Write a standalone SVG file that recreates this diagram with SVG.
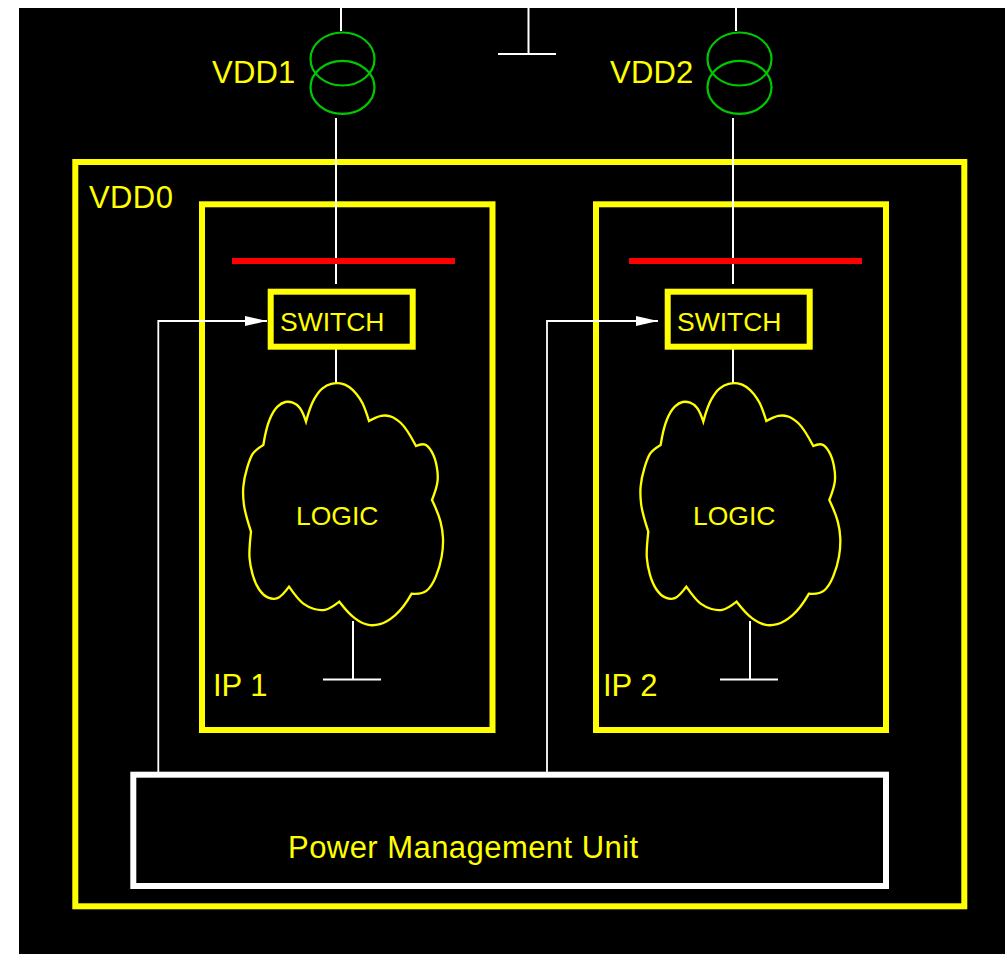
<svg xmlns="http://www.w3.org/2000/svg" xmlns:xlink="http://www.w3.org/1999/xlink" width="1007" height="954" viewBox="0 0 1007 954">
<style>
text{font-family:"Liberation Sans",Arial,sans-serif;fill:#ffff00}
.l{font-size:31px;letter-spacing:.2px}.m{font-size:26.5px}
.frame{fill:none;stroke:#ffff00;stroke-width:6}
.wire{fill:none;stroke:#ffffff;stroke-width:2}
.sig{fill:none;stroke:#ffffff;stroke-width:1.8}
.coil{fill:none;stroke:#00c800;stroke-width:2.200}
.rail{stroke:#ff0000;stroke-width:6}
.cloud{fill:none;stroke:#ffff00;stroke-width:7;stroke-linejoin:miter}
</style>
<defs>
<marker id="arrow" markerUnits="userSpaceOnUse" markerWidth="24" markerHeight="12" refX="22" refY="5.500" orient="auto"><path d="M0 0.500L22 5.500L0 10.500Z" fill="#ffffff"/></marker>
<path id="cloudshape" d="M258 155Q270 110 282.500 87.500Q295 65 307.500 55Q320 45 334 41.500Q348 38 361.500 40Q375 42 387.500 51Q400 60 410 72.500Q420 85 427.500 100Q435 115 447 153Q470 140 483.500 137.500Q497 135 511 139Q525 143 542.500 159Q560 175 588 228Q605 220 615 224Q625 228 635 245Q645 262 650 288.500Q655 315 652.500 335Q650 355 636 390Q655 430 661.500 455Q668 480 669 505Q670 530 665 560Q660 590 647.500 620Q635 650 620 662Q605 674 575 671Q550 715 525 736Q500 757 480 762.500Q460 768 442.500 764Q425 760 405 745Q385 730 358 695Q330 717 315 719.500Q300 722 282.500 717Q265 712 250 701Q235 690 207 650Q185 680 172.500 684.500Q160 689 145 683Q130 677 117.500 658.500Q105 640 97.500 612.500Q90 585 88.500 562.500Q87 540 93 485Q75 430 71.500 402.500Q68 375 70 350Q72 325 81 295Q90 265 97.500 252.500Q105 240 130 225Q138 175 149 148.500Q160 122 172.500 110Q185 98 196 96Q207 94 218.500 98Q230 102 239 113.500Q248 125 258 155Z"/>
</defs>
<rect x="19" y="8" width="986" height="946" fill="#000000"/>
<g id="vdd0"><rect class="frame" x="75.300" y="162" width="889" height="744.300"/><text class="l" x="89" y="208" style="letter-spacing:.4px">VDD0</text></g>
<g id="ip1"><rect class="frame" x="202" y="204.300" width="290.500" height="525.700"/><text class="l" x="213" y="696" style="letter-spacing:0">IP 1</text></g>
<g id="ip2"><rect class="frame" x="596" y="204.300" width="290" height="525.700"/><text class="l" x="603" y="696" style="letter-spacing:0">IP 2</text></g>
<g id="connectors">
<path class="wire" d="M341 8V31M336 118V284M336 349V383M736 8V31M733 118V284M733 349V383"/>
<path class="wire" d="M528.500 8V54M498 54H556M353 621V679.500M323 679.500H381M750 621V679.500M720 679.500H778"/>
<path class="sig" d="M158.300 773V321H267" marker-end="url(#arrow)"/>
<path class="sig" d="M547 773V321H658" marker-end="url(#arrow)"/>
</g>
<g id="source1"><ellipse class="coil" cx="342.500" cy="59" rx="32" ry="26.500"/><ellipse class="coil" cx="342.500" cy="87.300" rx="32" ry="26.500"/><text class="l" x="212" y="83">VDD1</text></g>
<g id="source2"><ellipse class="coil" cx="739.500" cy="59" rx="32" ry="26.500"/><ellipse class="coil" cx="739.500" cy="87.300" rx="32" ry="26.500"/><text class="l" x="610" y="83">VDD2</text></g>
<g id="rail1"><line class="rail" x1="232" y1="261" x2="455" y2="261"/></g>
<g id="rail2"><line class="rail" x1="629" y1="261" x2="862" y2="261"/></g>
<g id="switch1"><rect class="frame" x="270.700" y="291.700" width="142" height="55"/><text class="m" x="280" y="331">SWITCH</text></g>
<g id="switch2"><rect class="frame" x="667.700" y="291.700" width="142" height="55"/><text class="m" x="677" y="331">SWITCH</text></g>
<g id="logic1"><use xlink:href="#cloudshape" href="#cloudshape" class="cloud" transform="translate(220 370) scale(.33333)"/><text class="m" x="296" y="525">LOGIC</text></g>
<g id="logic2"><use xlink:href="#cloudshape" href="#cloudshape" class="cloud" transform="translate(617.300 370) scale(.33333)"/><text class="m" x="693" y="525">LOGIC</text></g>
<g id="pmu"><rect x="133.300" y="774.700" width="752.700" height="111.300" fill="none" stroke="#ffffff" stroke-width="6"/><text class="l" x="288" y="858" style="letter-spacing:.45px">Power Management Unit</text></g>
</svg>
